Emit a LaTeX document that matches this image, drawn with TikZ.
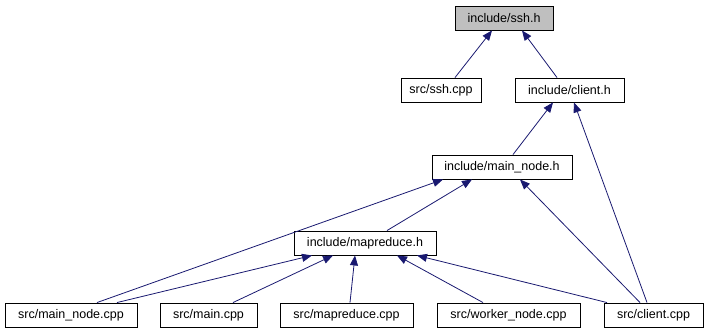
\documentclass[tikz,border=0pt]{standalone}
\usepackage{fontspec}
\setmainfont{Liberation Sans}
\usetikzlibrary{arrows.meta}
\definecolor{edgeblue}{HTML}{191970}
\definecolor{headgrey}{HTML}{BFBFBF}
\begin{document}
\begin{tikzpicture}[x=1pt,y=-1pt,
  file/.style={draw=black,line width=0.9pt,fill=white,minimum height=24pt,
    inner sep=0pt,font=\fontsize{12.5}{15}\selectfont},
  dep/.style={draw=edgeblue,line width=0.8pt,-{Triangle[length=10pt,width=8pt]}}]
  \useasboundingbox (0,0) rectangle (708,336);
  \node[file,fill=headgrey,minimum width=98pt] (ssh) at (504,18) {include/ssh.h};
  \node[file,minimum width=80pt] (sshcpp) at (441,90) {src/ssh.cpp};
  \node[file,minimum width=109pt] (client) at (569.5,90) {include/client.h};
  \node[file,minimum width=140pt] (mainnode) at (502,167) {include/main\_node.h};
  \node[file,minimum width=142pt] (mapreduce) at (365,243) {include/mapreduce.h};
  \node[file,minimum width=132pt] (mainnodecpp) at (71,315) {src/main\_node.cpp};
  \node[file,minimum width=97pt] (maincpp) at (208.5,315) {src/main.cpp};
  \node[file,minimum width=133pt] (mapreducecpp) at (346.5,315) {src/mapreduce.cpp};
  \node[file,minimum width=143pt] (workercpp) at (508.5,315) {src/worker\_node.cpp};
  \node[file,minimum width=99pt] (clientcpp) at (653.5,315) {src/client.cpp};
  \draw[dep] ([xshift=14pt]sshcpp.north) -- ([xshift=-12pt]ssh.south);
  \draw[dep] ([xshift=-12.5pt]client.north) -- ([xshift=18pt]ssh.south);
  \draw[dep] ([xshift=11pt]mainnode.north) -- ([xshift=-16.5pt]client.south);
  \draw[dep] ([xshift=-6.5pt]clientcpp.north) -- ([xshift=4.5pt]client.south);
  \draw[dep] ([xshift=22pt]mapreduce.north) -- ([xshift=-30pt]mainnode.south);
  \draw[dep] ([xshift=26pt]mainnodecpp.north) -- ([xshift=-59pt]mainnode.south);
  \draw[dep] ([xshift=-13.5pt]clientcpp.north) -- ([xshift=18pt]mainnode.south);
  \draw[dep] ([xshift=46pt]mainnodecpp.north) -- ([xshift=-53pt]mapreduce.south);
  \draw[dep] ([xshift=24.5pt]maincpp.north) -- ([xshift=-32pt]mapreduce.south);
  \draw[dep] ([xshift=3.5pt]mapreducecpp.north) -- ([xshift=-10pt]mapreduce.south);
  \draw[dep] ([xshift=-25.5pt]workercpp.north) -- ([xshift=32pt]mapreduce.south);
  \draw[dep] ([xshift=-46.5pt]clientcpp.north) -- ([xshift=52pt]mapreduce.south);
\end{tikzpicture}
\end{document}
